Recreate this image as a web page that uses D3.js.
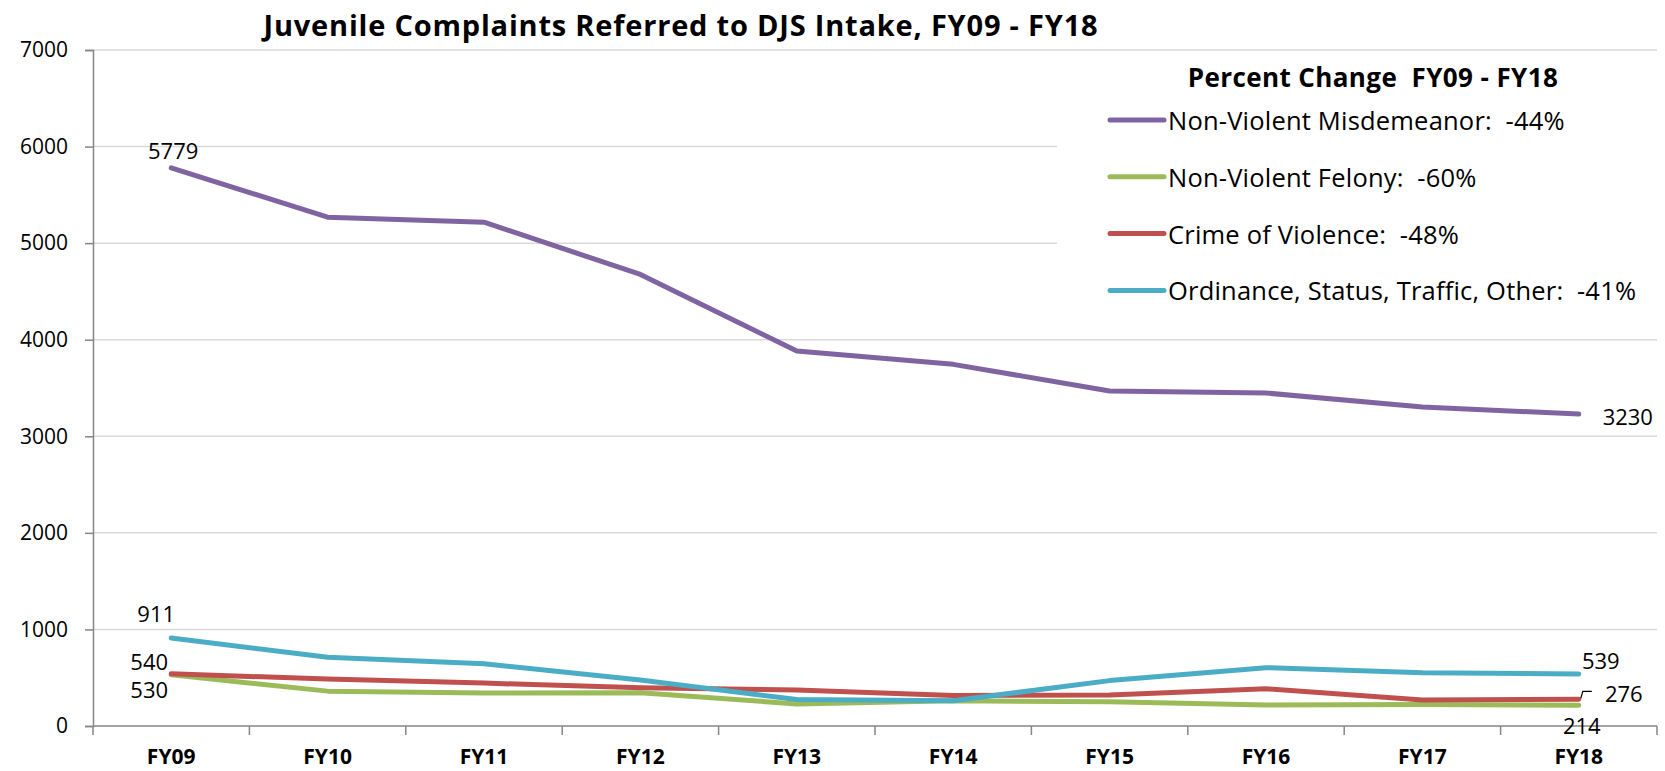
<!DOCTYPE html>
<html>
<head>
<meta charset="utf-8">
<script src="https://cdn.jsdelivr.net/npm/d3@7"></script>
<style>
  html, body { margin: 0; padding: 0; background: #fff; }
  svg text { font-family: "Open Sans", "Noto Sans", sans-serif; white-space: pre; }
</style>
</head>
<body>
<div id="chart"></div>
<script>
// Fiscal years on the x axis
const years = ['FY09', 'FY10', 'FY11', 'FY12', 'FY13', 'FY14', 'FY15', 'FY16', 'FY17', 'FY18'];

// Complaints per offense type
const misdemeanor = [5779, 5269, 5217, 4676, 3883, 3745, 3469, 3448, 3303, 3230];
const felony      = [530, 361, 342, 345, 229, 262, 250, 217, 222, 214];
const violence    = [540, 486, 444, 395, 372, 316, 320, 386, 269, 276];
const ordinance   = [911, 712, 645, 476, 274, 262, 470, 604, 552, 539];

const seriesNames = [
  'Non-Violent Misdemeanor:  -44%',
  'Non-Violent Felony:  -60%',
  'Crime of Violence:  -48%',
  'Ordinance, Status, Traffic, Other:  -41%'
];
const seriesColors = ['#8064A2', '#9BBB59', '#C0504D', '#4BACC6'];
const yTicks = [0, 1000, 2000, 3000, 4000, 5000, 6000, 7000];

const title = 'Juvenile Complaints Referred to DJS Intake, FY09 - FY18';
const legendTitle = 'Percent Change  FY09 - FY18';

const series = [misdemeanor, felony, violence, ordinance].map((values, i) => ({
  name: seriesNames[i],
  color: seriesColors[i],
  values
}));

// Layout
const width = 1665, height = 771;
const margin = { top: 50, right: 8, bottom: 45, left: 93 };

const svg = d3.select('#chart')
  .append('svg')
  .attr('width', width)
  .attr('height', height);

const x = d3.scaleBand()
  .domain(years)
  .range([margin.left, width - margin.right]);

const y = d3.scaleLinear()
  .domain([0, 7000])
  .range([height - margin.bottom, margin.top]);

// Gridlines
svg.append('g')
  .selectAll('line')
  .data(yTicks.filter(d => d > 0))
  .enter()
  .append('line')
  .attr('x1', margin.left)
  .attr('x2', width - margin.right)
  .attr('y1', d => y(d))
  .attr('y2', d => y(d))
  .attr('stroke', '#d9d9d9')
  .attr('stroke-width', 1.5);

// Y axis
const yAxis = svg.append('g')
  .attr('transform', `translate(${margin.left},0)`)
  .call(d3.axisLeft(y).tickValues(yTicks).tickSize(8).tickPadding(17).tickFormat(d3.format('d')));
yAxis.select('.domain').attr('stroke', '#868686').attr('stroke-width', 1.5);
yAxis.selectAll('.tick line').attr('stroke', '#868686').attr('stroke-width', 1.5);
yAxis.selectAll('.tick text')
  .attr('fill', '#000')
  .style('font-size', '21px');

// X axis, ticks on band edges
const xAxis = svg.append('g')
  .attr('transform', `translate(0,${y(0)})`);
xAxis.append('line')
  .attr('x1', margin.left)
  .attr('x2', width - margin.right)
  .attr('stroke', '#868686')
  .attr('stroke-width', 1.5);
xAxis.selectAll('.edge')
  .data(years.concat(['end']))
  .enter()
  .append('line')
  .attr('x1', (d, i) => margin.left + i * x.bandwidth())
  .attr('x2', (d, i) => margin.left + i * x.bandwidth())
  .attr('y1', 0)
  .attr('y2', 9)
  .attr('stroke', '#868686')
  .attr('stroke-width', 1.5);
xAxis.selectAll('.label')
  .data(years)
  .enter()
  .append('text')
  .attr('x', d => x(d) + x.bandwidth() / 2)
  .attr('y', 38)
  .attr('text-anchor', 'middle')
  .style('font-size', '21px')
  .style('font-weight', 'bold')
  .text(d => d);

// Lines
const line = d3.line()
  .x((d, i) => x(years[i]) + x.bandwidth() / 2)
  .y(d => y(d));

svg.append('g')
  .selectAll('path')
  .data(series)
  .enter()
  .append('path')
  .attr('d', d => line(d.values))
  .attr('fill', 'none')
  .attr('stroke', d => d.color)
  .attr('stroke-width', 5)
  .attr('stroke-linejoin', 'round')
  .attr('stroke-linecap', 'round');

// Data labels at first and last year (offsets in px from the point)
const labelOffsets = [
  { first: [2, -18], last: [49, 2] },
  { first: [-22, 14], last: [3, 20] },
  { first: [-22, -13], last: [45, -6] },
  { first: [-15, -25], last: [22, -14] }
];
const lastX = x(years[years.length - 1]) + x.bandwidth() / 2;
const firstX = x(years[0]) + x.bandwidth() / 2;

series.forEach((s, i) => {
  const o = labelOffsets[i];
  const v0 = s.values[0], v1 = s.values[s.values.length - 1];
  svg.append('text')
    .attr('x', firstX + o.first[0])
    .attr('y', y(v0) + o.first[1])
    .attr('text-anchor', 'middle')
    .attr('dominant-baseline', 'central')
    .style('font-size', '22px')
    .text(v0);
  svg.append('text')
    .attr('x', lastX + o.last[0])
    .attr('y', y(v1) + o.last[1])
    .attr('text-anchor', 'middle')
    .attr('dominant-baseline', 'central')
    .style('font-size', '22px')
    .text(v1);
});

// Leader line for the crime of violence label
svg.append('path')
  .attr('d', `M${lastX + 2},${y(violence[9]) - 1} L${lastX + 4},${y(violence[9]) - 8} L${lastX + 13},${y(violence[9]) - 8}`)
  .attr('fill', 'none')
  .attr('stroke', '#000')
  .attr('stroke-width', 1.2);

// Legend
const legend = svg.append('g');
legend.append('rect')
  .attr('x', 1057)
  .attr('y', 56)
  .attr('width', width - margin.right - 1057)
  .attr('height', 262)
  .attr('fill', '#fff');
legend.append('text')
  .attr('x', 1373)
  .attr('y', 77)
  .attr('text-anchor', 'middle')
  .attr('dominant-baseline', 'central')
  .style('font-size', '26px')
  .style('font-weight', 'bold')
  .style('letter-spacing', '0.4px')
  .text(legendTitle);

const item = legend.selectAll('.item')
  .data(series)
  .enter()
  .append('g')
  .attr('transform', (d, i) => `translate(1110,${120 + i * 56.8})`);
item.append('line')
  .attr('x1', 0)
  .attr('x2', 54)
  .attr('stroke', d => d.color)
  .attr('stroke-width', 5)
  .attr('stroke-linecap', 'round');
item.append('text')
  .attr('x', 58)
  .attr('dominant-baseline', 'central')
  .style('font-size', '25.5px')
  .style('letter-spacing', '0.2px')
  .text(d => d.name);

// Title
svg.append('text')
  .attr('x', 681)
  .attr('y', 24)
  .attr('text-anchor', 'middle')
  .attr('dominant-baseline', 'central')
  .style('font-size', '29px')
  .style('font-weight', 'bold')
  .style('letter-spacing', '0.8px')
  .text(title);
</script>
</body>
</html>
